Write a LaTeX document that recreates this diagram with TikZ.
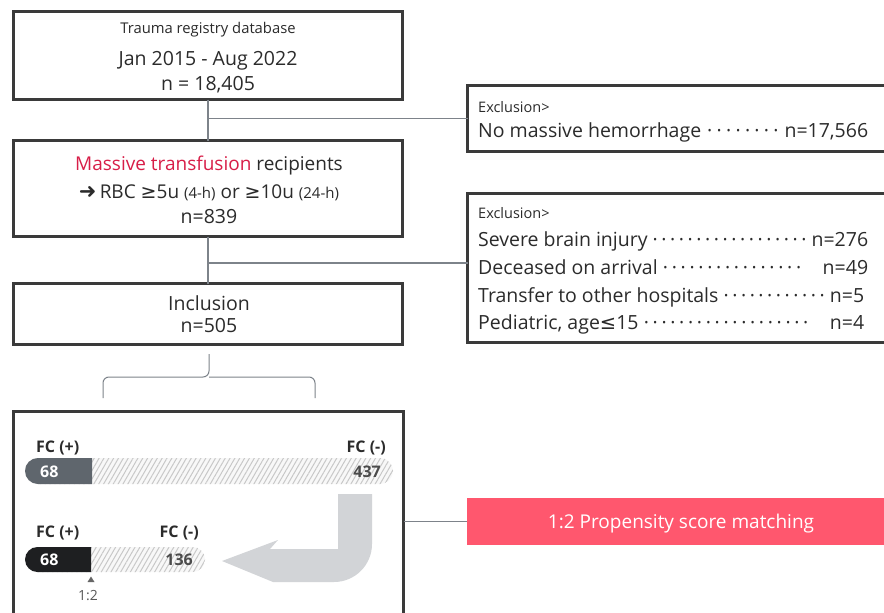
\documentclass[tikz,border=0pt]{standalone}
\usepackage{fontspec}
\setmainfont{Open Sans}
\newfontfamily\djv{DejaVu Sans}
\usetikzlibrary{patterns.meta}
\definecolor{boxc}{HTML}{3A3A3A}
\definecolor{txt}{HTML}{2B2B2B}
\definecolor{linec}{HTML}{7D838A}
\definecolor{mtred}{HTML}{D81E48}
\definecolor{pinkc}{HTML}{FF576E}
\definecolor{bar1c}{HTML}{5F666D}
\definecolor{bar2c}{HTML}{1E1F21}
\definecolor{arrowc}{HTML}{D2D4D7}
\definecolor{hatchc}{HTML}{C8C8C8}
\definecolor{hatchbg}{HTML}{F8F8F8}
\newcommand\fsz[1]{\fontsize{#1}{#1}\selectfont}
\newcommand\dl{\xleaders\hbox to 8.6pt{\hss·\hss}\hfill}
\newcommand\mygeq{{\djv ≥}}
\newcommand\myleq{{\djv ≤}}
\tikzset{
  fbox/.style={draw=boxc, line width=3pt, inner sep=0pt, outer sep=0pt},
  conn/.style={draw=linec, line width=1.3pt},
  tx/.style={anchor=base, inner sep=0pt, text=txt},
  tl/.style={anchor=base west, inner sep=0pt, text=txt},
  bartx/.style={anchor=base west, inner sep=0pt, font=\bfseries\fsz{16}},
  barrt/.style={anchor=base east, inner sep=0pt, font=\bfseries\fsz{16}},
  hatch/.style={pattern={Lines[angle=60,distance=4.2pt,line width=1pt]}, pattern color=hatchc},
}
\begin{document}
\begin{tikzpicture}[x=1pt,y=-1pt]
\clip (0,0) rectangle (884,613);
\fill[white] (0,0) rectangle (884,613);
% main boxes
\node[fbox, minimum width=389pt, minimum height=88pt] (db) at (208,55.5) {};
\node[fbox, minimum width=389pt, minimum height=96pt] (mt) at (208,188.5) {};
\node[fbox, minimum width=389pt, minimum height=61pt] (inc) at (208,314) {};
\node[fbox, minimum width=432.5pt, minimum height=66pt] (ex1) at (683.75,118.5) {};
\node[fbox, minimum width=432.5pt, minimum height=149pt] (ex2) at (683.75,268) {};
\node[fbox, minimum width=390pt, minimum height=228.5pt] (fc) at (208.5,525.75) {};
\node[fill=pinkc, inner sep=0pt, minimum width=433pt, minimum height=47pt] (ps) at (683.5,521.5) {};
% connectors
\draw[conn] (db.south) -- (mt.north);
\draw[conn] (db.south |- ex1.west) -- (ex1.west);
\draw[conn] (mt.south) -- (inc.north);
\coordinate (b2) at (209,263);
\draw[conn] (b2) -- (b2 -| ex2.west);
\draw[conn] (ps.west) -- (ps.west -| fc.east);
% brace
\draw[linec, line width=1pt, rounded corners=6pt] (103,398) -- (103,377) -- (209,377) -- (209,354);
\draw[linec, line width=1pt, rounded corners=6pt] (315,398) -- (315,377) -- (209,377);
% texts box 1
\node[tx] (t1) at (208,34) {\fsz{14.8}Trauma registry database};
\node[tx] (t2) at (208,65) {\fsz{19.5}Jan 2015 - Aug 2022};
\node[tx] (t3) at (208,90) {\fsz{19.5}n = 18,405};
% box 2
\node[tx] (t4) at (209,170) {\fsz{19}\textcolor{mtred}{Massive transfusion} recipients};
\node[tx] (t5) at (209,198) {\fsz{19}{\djv\fsz{21}\bfseries ➜}\,RBC \mygeq5u {\fsz{15}(4-h)} or \mygeq10u {\fsz{15}(24-h)}};
\node[tx] (t6) at (209,223) {\fsz{19.5}n=839};
% box 3
\node[tx] (t7) at (209,310) {\fsz{19.5}Inclusion};
\node[tx] (t8) at (209,332) {\fsz{19.5}n=505};
% exclusion 1
\node[tl] (e1) at (478,112) {\fsz{14.5}Exclusion>};
\node[tl] (e2) at (478,137) {\fsz{19.5}\makebox[390pt][l]{No massive hemorrhage\,\dl\,n=17,566}};
% exclusion 2
\node[tl] (e3) at (478,218) {\fsz{14.5}Exclusion>};
\node[tl] (e4) at (478,246) {\fsz{19.5}\makebox[390pt][l]{Severe brain injury\,\dl\,n=276}};
\node[tl] (e5) at (478,274) {\fsz{19.5}\makebox[390pt][l]{Deceased on arrival\,\dl\quad n=49}};
\node[tl] (e6) at (478,302) {\fsz{19.5}\makebox[386pt][l]{Transfer to other hospitals\,\dl\,n=5}};
\node[tl] (e7) at (478,329) {\fsz{19.5}\makebox[386pt][l]{Pediatric, age\myleq15\,\dl\quad n=4}};
% pink
\node[anchor=base, inner sep=0pt, text=white] (pt) at (681,528) {\fsz{19}1:2 Propensity score matching};
% bar 1
\fill[hatchbg, rounded corners=13pt] (25,458) rectangle (393,484);
\fill[hatch, rounded corners=13pt] (25,458) rectangle (393,484);
\begin{scope}
\clip (20,450) rectangle (92,490);
\fill[bar1c, rounded corners=13pt] (25,458) rectangle (130,484);
\end{scope}
\node[bartx, text=txt] (f1) at (36,452) {FC (+)};
\node[barrt, text=txt] (f2) at (386,452) {FC (-)};
\node[bartx, text=white] (n1) at (40,477) {68};
\node[barrt, text=txt!85] (n2) at (381,477) {437};
% arrow
\fill[arrowc] (338,494) -- (372,494) -- (372,544) arc[start angle=0, end angle=-90, radius=38pt] -- (273,582) -- (222,561) -- (278,540) -- (270,549) -- (338,549) -- cycle;
% bar 2
\fill[hatchbg, rounded corners=12.5pt] (25,547) rectangle (205,572);
\fill[hatch, rounded corners=12.5pt] (25,547) rectangle (205,572);
\begin{scope}
\clip (20,540) rectangle (91,580);
\fill[bar2c, rounded corners=12.5pt] (25,547) rectangle (130,572);
\end{scope}
\node[bartx, text=txt] (f3) at (36,537) {FC (+)};
\node[barrt, text=txt] (f4) at (199,537) {FC (-)};
\node[bartx, text=white] (n3) at (40,565) {68};
\node[barrt, text=txt!85] (n4) at (193,565) {136};
% ratio mark
\fill[gray!80!black] (91,576.5) -- (94.5,582) -- (87.5,582) -- cycle;
\node[anchor=base, inner sep=0pt, text=gray!70!black] (r) at (88,600) {\fsz{14}1:2};
\end{tikzpicture}
\end{document}
